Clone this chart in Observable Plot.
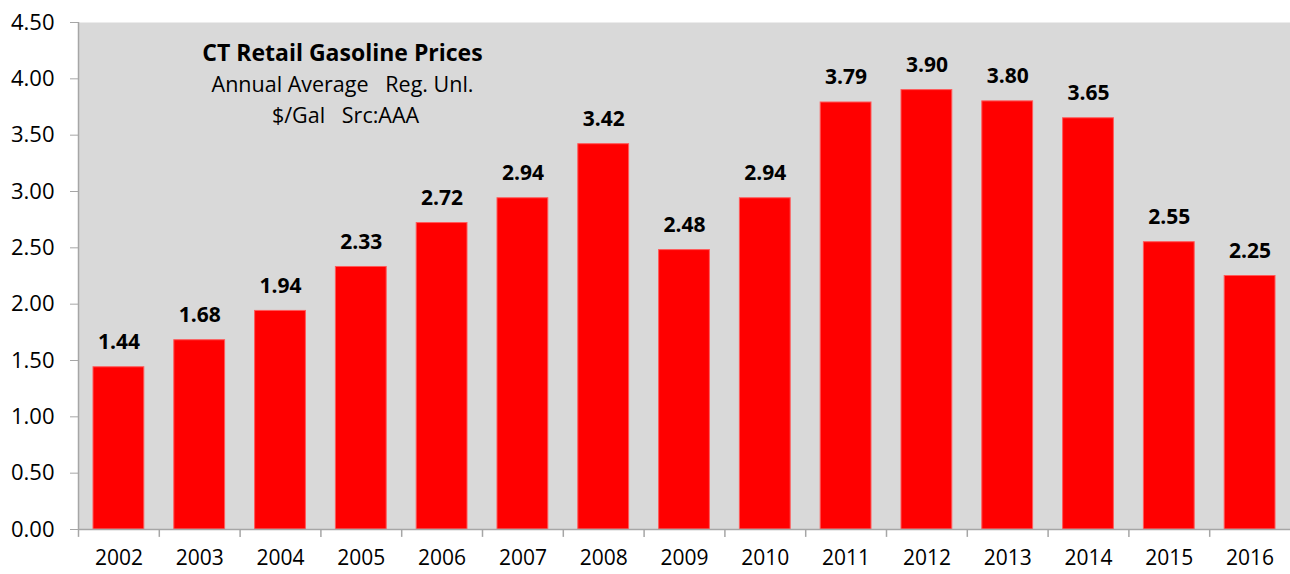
<!DOCTYPE html>
<html><head><meta charset="utf-8">
<script src="https://cdn.jsdelivr.net/npm/d3@7"></script>
<script src="https://cdn.jsdelivr.net/npm/@observablehq/plot@0.6"></script>
<style>body{margin:0;background:#fff}</style></head>
<body><div id="chart"></div>
<script>
const years = ["2002","2003","2004","2005","2006","2007","2008","2009","2010","2011","2012","2013","2014","2015","2016"];
const prices = [1.44,1.68,1.94,2.33,2.72,2.94,3.42,2.48,2.94,3.79,3.90,3.80,3.65,2.55,2.25];
const yTicks = [0,0.5,1,1.5,2,2.5,3,3.5,4,4.5];
const titleLine = "CT Retail Gasoline Prices";
const subtitleLine1 = "Annual Average\u00a0\u00a0 Reg. Unl.";
const subtitleLine2 = "$/Gal\u00a0\u00a0 Src:AAA";

const data = years.map((year, i) => ({year, price: prices[i]}));

const W = 1290, H = 574, mL = 78, mR = 0, mT = 22, mB = 45;
const bw = (W - mL - mR) / years.length;
const axisGray = "#a6a6a6";
const font = "'Open Sans', sans-serif";

const chart = Plot.plot({
  width: W, height: H,
  marginLeft: mL, marginRight: mR, marginTop: mT, marginBottom: mB,
  style: {fontFamily: font, background: "#fff", color: "#000"},
  x: {domain: years, padding: 0, round: false, label: null},
  y: {domain: [0, 4.5], label: null},
  marks: [
    Plot.frame({fill: "#d9d9d9", stroke: null}),
    Plot.barY(data, {x: "year", y: "price", fill: "#ff0000", stroke: "#ff5a5a", strokeWidth: 1, insetLeft: 15, insetRight: 15}),
    Plot.text(data, {x: "year", y: "price", text: d => d.price.toFixed(2), dy: -25, fontWeight: "bold", fontSize: 21, fill: "#000"}),
    Plot.ruleY([0], {stroke: axisGray, strokeWidth: 1.5}),
    Plot.ruleX([years[0]], {dx: -bw / 2, y1: 0, y2: 4.5, stroke: axisGray, strokeWidth: 1.5}),
    Plot.ruleX(years, {x: d => d, dx: -bw / 2, y1: 0, y2: -0.07, stroke: axisGray, strokeWidth: 1.5}),
    Plot.axisY({ticks: yTicks, tickFormat: d => d.toFixed(2), tickSize: 8, tickPadding: 16, stroke: axisGray, color: "#000", fontSize: 22, label: null}),
    Plot.axisX({tickSize: 0, tickPadding: 21, color: "#000", fontSize: 21, label: null}),
    Plot.text([titleLine], {text: d => d, frameAnchor: "top-left", dx: 264, dy: 31, textAnchor: "middle", lineAnchor: "middle", fontWeight: "bold", fontSize: 23, fill: "#000"}),
    Plot.text([subtitleLine1], {text: d => d, frameAnchor: "top-left", dx: 264, dy: 63, textAnchor: "middle", lineAnchor: "middle", fontSize: 21.5, fill: "#000"}),
    Plot.text([subtitleLine2], {text: d => d, frameAnchor: "top-left", dx: 267, dy: 94, textAnchor: "middle", lineAnchor: "middle", fontSize: 21.5, fill: "#000"})
  ]
});
document.getElementById("chart").appendChild(chart);
</script>
</body></html>
